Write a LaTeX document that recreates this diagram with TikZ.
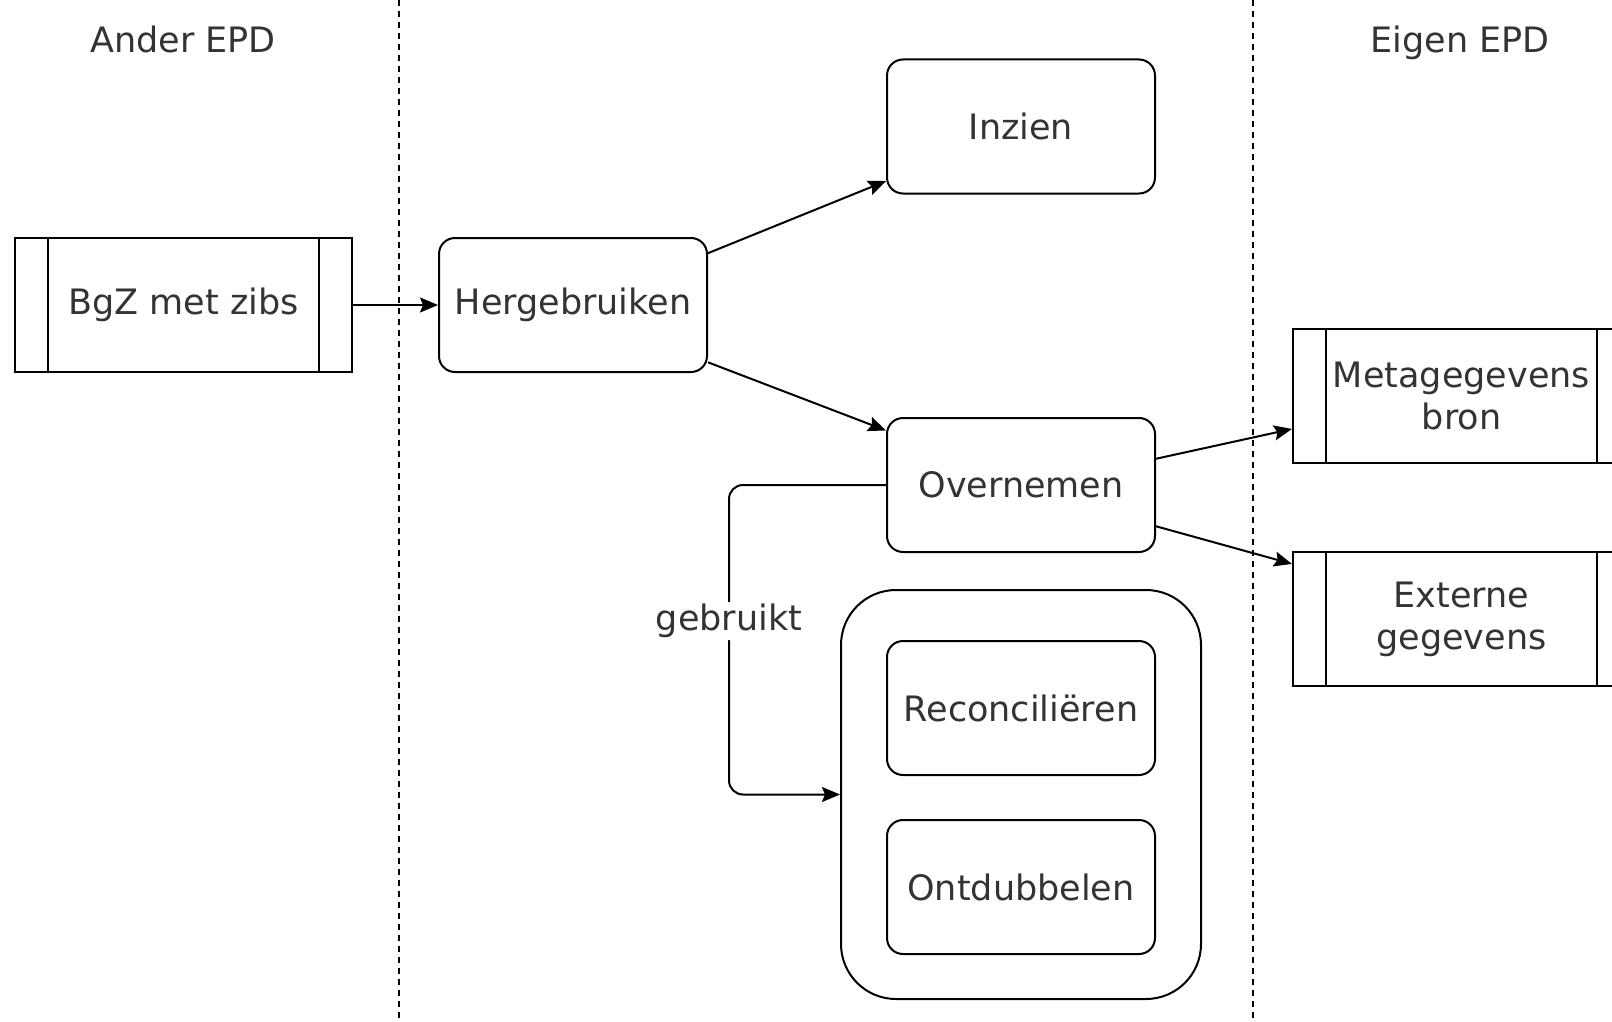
\documentclass[tikz,border=0pt]{standalone}
\usepackage{fontspec}
\setmainfont{DejaVu Sans}
\usetikzlibrary{arrows.meta}
\tikzset{every node/.style={font=\fontsize{35}{42}\selectfont, text=black!80}}

\begin{document}
\begin{tikzpicture}[x=1pt,y=-1pt,
    proc/.style={draw, rounded corners=16pt, minimum width=268pt, minimum height=134pt, line width=2pt},
    store/.style={draw, minimum width=337pt, minimum height=134pt, line width=2pt, align=center},
    lane/.style={dash pattern=on 6pt off 5pt, line width=1.5pt},
    flow/.style={-{Stealth[length=18pt,width=15pt,inset=3pt]}, line width=2pt}]
    \clip (0,0) rectangle (1612,1022);
    % swimlanes
    \draw[lane] (399,0) -- (399,1022);
    \draw[lane] (1253,0) -- (1253,1022);
    \node[anchor=base] (ander) at (183,53) {Ander EPD};
    \node[anchor=base] (eigen) at (1460,53) {Eigen EPD};
    % blocks
    \node[store] (bgz) at (183.5,305) {BgZ met zibs};
    \node[store] (meta) at (1461.5,396) {Metagegevens\\bron};
    \node[store] (ext) at (1461.5,619) {Externe\\gegevens};
    \foreach \s in {bgz, meta, ext} {
        \draw[line width=2pt] ([xshift=34pt]\s.north west) -- ([xshift=34pt]\s.south west);
        \draw[line width=2pt] ([xshift=-34pt]\s.north east) -- ([xshift=-34pt]\s.south east);
    }
    \node[proc] (herg) at (573,305) {Hergebruiken};
    \node[proc] (inzien) at (1021,126.5) {Inzien};
    \node[proc] (over) at (1021,485) {Overnemen};
    \node[draw, rounded corners=55pt, minimum width=360pt, minimum height=409pt, line width=2pt] (cont) at (1021,794.5) {};
    \node[proc] (recon) at (1021,708) {Reconciliëren};
    \node[proc] (ontdub) at (1021,887) {Ontdubbelen};
    % connectors
    \draw[flow] (bgz.east) -- (herg.west);
    \draw[flow] (herg.21.6) -- (inzien.202.7);
    \draw[flow] (herg.337.7) -- (over.158.6);
    \draw[flow] (over.11.7) -- (meta.191.4);
    \draw[flow] (over.343.1) -- (ext.162.9);
    \draw[flow, rounded corners=14pt] (over.west) -| ([xshift=-111pt]cont.west)
        node[pos=0.72, fill=white, inner sep=2pt] (gebruikt) {gebruikt} -- (cont.west);
\end{tikzpicture}
\end{document}
